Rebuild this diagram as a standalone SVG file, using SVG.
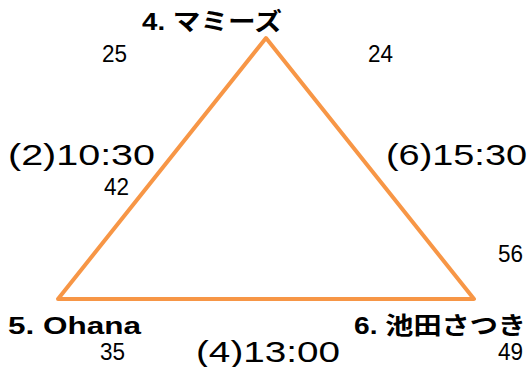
<svg xmlns="http://www.w3.org/2000/svg" width="530" height="367" viewBox="0 0 530 367">
<style>
.name{font-family:"Liberation Sans","Noto Sans CJK JP",sans-serif;font-size:24px;font-weight:bold;fill:#000}
.num{font-family:"Liberation Sans",sans-serif;font-size:24px;fill:#000}
.time{font-family:"Liberation Sans","Noto Sans CJK JP",sans-serif;font-size:29px;fill:#000}
.edge{fill:none;stroke:#F79646;stroke-width:4;stroke-linejoin:round}
</style>
<rect width="530" height="367" fill="#fff"/>
<g id="connectors">
<path class="edge" d="M266,38 L474,299 L58,299 Z"/>
</g>
<g id="node4">
<text class="name" x="142" y="30" textLength="140" lengthAdjust="spacingAndGlyphs">4. マミーズ</text>
<text class="num" x="102" y="62" textLength="25" lengthAdjust="spacingAndGlyphs">25</text>
<text class="num" x="368" y="62" textLength="25" lengthAdjust="spacingAndGlyphs">24</text>
</g>
<g id="node5">
<text class="name" x="8" y="334" textLength="133" lengthAdjust="spacingAndGlyphs">5. Ohana</text>
<text class="num" x="104" y="195" textLength="25" lengthAdjust="spacingAndGlyphs">42</text>
<text class="num" x="100" y="360" textLength="25" lengthAdjust="spacingAndGlyphs">35</text>
</g>
<g id="node6">
<text class="name" x="354" y="334" textLength="172" lengthAdjust="spacingAndGlyphs">6. 池田さつき</text>
<text class="num" x="498" y="262" textLength="25" lengthAdjust="spacingAndGlyphs">56</text>
<text class="num" x="498" y="360" textLength="25" lengthAdjust="spacingAndGlyphs">49</text>
</g>
<g id="labels">
<text class="time" x="8" y="165" textLength="147" lengthAdjust="spacingAndGlyphs">(2)10:30</text>
<text class="time" x="386" y="165" textLength="141" lengthAdjust="spacingAndGlyphs">(6)15:30</text>
<text class="time" x="196" y="362" textLength="144" lengthAdjust="spacingAndGlyphs">(4)13:00</text>
</g>
</svg>
